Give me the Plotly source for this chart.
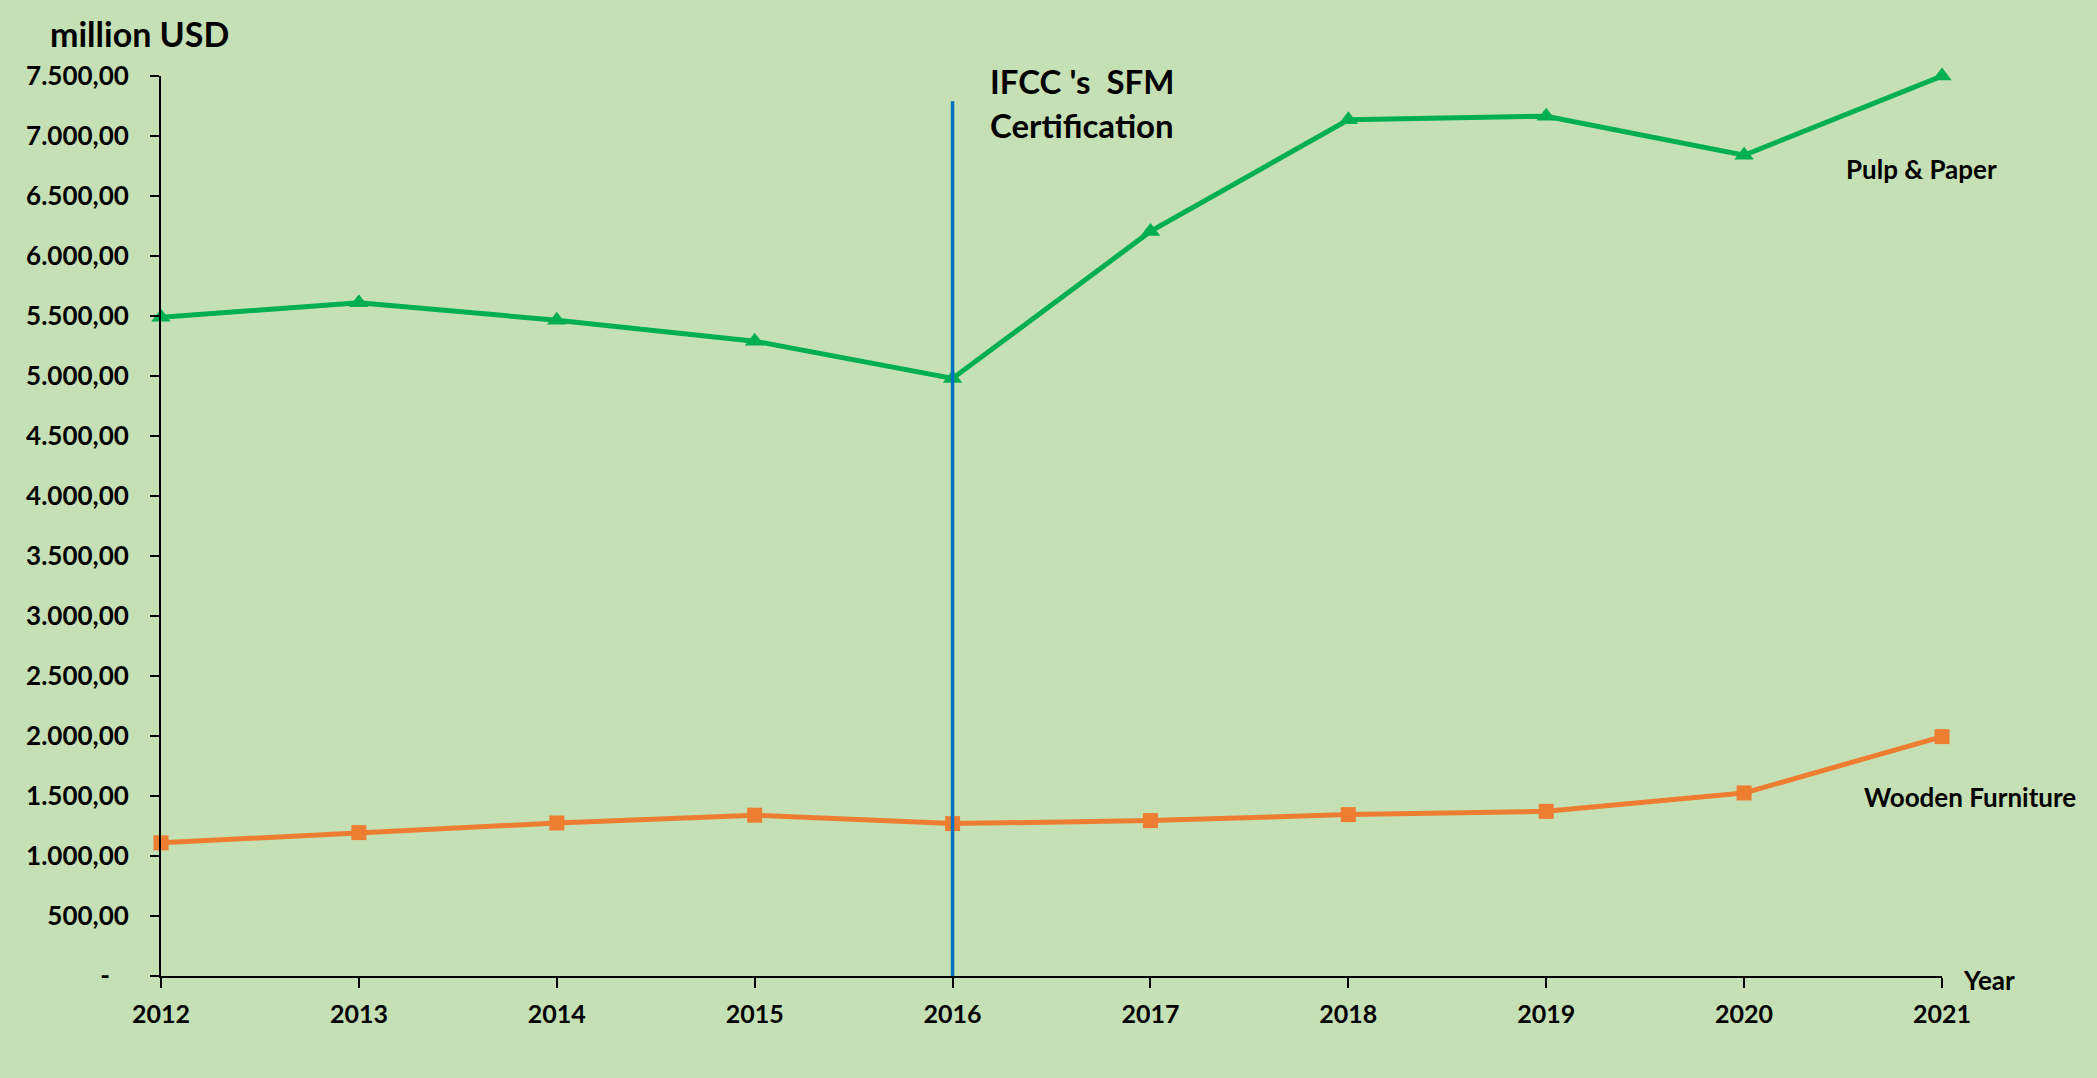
import plotly.graph_objects as go

years = [2012, 2013, 2014, 2015, 2016, 2017, 2018, 2019, 2020, 2021]
pulp_paper = [5490, 5610, 5465, 5290, 4980, 6205, 7135, 7165, 6840, 7500]
wooden_furniture = [1110, 1195, 1275, 1340, 1270, 1295, 1345, 1372, 1525, 1995]

y_tick_vals = [0, 500, 1000, 1500, 2000, 2500, 3000, 3500, 4000, 4500, 5000, 5500, 6000, 6500, 7000, 7500]
y_tick_text = ["-\u00a0\u00a0\u00a0", "500,00", "1.000,00", "1.500,00", "2.000,00", "2.500,00", "3.000,00",
               "3.500,00", "4.000,00", "4.500,00", "5.000,00", "5.500,00", "6.000,00", "6.500,00",
               "7.000,00", "7.500,00"]
x_tick_text = [str(y) for y in years]

cert_year = [2016, 2016]
cert_span = [0, 7290]

FONT = "Lato"
BG = "#C5E0B4"

fig = go.Figure()
fig.add_trace(go.Scatter(
    x=years, y=pulp_paper, mode="lines+markers", name="Pulp & Paper",
    line=dict(color="#00B050", width=5),
    marker=dict(symbol="triangle-up", size=17, color="#00B050"),
    cliponaxis=False, showlegend=False))
fig.add_trace(go.Scatter(
    x=years, y=wooden_furniture, mode="lines+markers", name="Wooden Furniture",
    line=dict(color="#ED7D31", width=5),
    marker=dict(symbol="square", size=15, color="#ED7D31"),
    cliponaxis=False, showlegend=False))
fig.add_trace(go.Scatter(
    x=cert_year, y=cert_span, mode="lines",
    line=dict(color="#0070C0", width=3.5),
    cliponaxis=False, showlegend=False, hoverinfo="skip"))

# plot area in pixels: x 161..1942, y 76..976
def px(xpix):
    return (xpix - 161) / 1781

def py(ypix):
    return (976 - ypix) / 900

txt = dict(family=FONT, color="black")
annotations = [
    dict(text="<b>million USD</b>", xref="paper", yref="paper", x=px(48), y=py(33),
         xanchor="left", yanchor="middle", showarrow=False, font=dict(size=34, **txt)),
    dict(text="<b>IFCC 's\u00a0\u00a0SFM</b>", xref="paper", yref="paper", x=px(988), y=py(81),
         xanchor="left", yanchor="middle", showarrow=False, font=dict(size=33, **txt)),
    dict(text="<b>Certification</b>", xref="paper", yref="paper", x=px(988), y=py(125),
         xanchor="left", yanchor="middle", showarrow=False, font=dict(size=33, **txt)),
    dict(text="<b>Pulp & Paper</b>", xref="paper", yref="paper", x=px(1921), y=py(169),
         xanchor="center", yanchor="middle", showarrow=False, font=dict(size=26, **txt)),
    dict(text="<b>Wooden Furniture</b>", xref="paper", yref="paper", x=px(1970), y=py(797),
         xanchor="center", yanchor="middle", showarrow=False, font=dict(size=26, **txt)),
    dict(text="<b>Year</b>", xref="paper", yref="paper", x=px(1989), y=py(980),
         xanchor="center", yanchor="middle", showarrow=False, font=dict(size=26, **txt)),
]

fig.update_layout(
    width=2097, height=1078, autosize=False,
    margin=dict(l=161, r=155, t=76, b=102),
    paper_bgcolor=BG, plot_bgcolor=BG,
    annotations=annotations,
    font=dict(family=FONT, color="black"),
)
fig.update_xaxes(
    range=[2012, 2021], tickvals=years, ticktext=[f"<b>{t}</b>" for t in x_tick_text],
    showgrid=False, zeroline=False, showline=True, linecolor="black", linewidth=2,
    ticks="outside", ticklen=10, tickwidth=2, tickcolor="black", ticklabelstandoff=5,
    tickfont=dict(family=FONT, size=25, color="black"),
)
fig.update_yaxes(
    range=[0, 7500], tickvals=y_tick_vals, ticktext=[f"<b>{t}</b>" for t in y_tick_text],
    showgrid=False, zeroline=False, showline=True, linecolor="black", linewidth=2,
    ticks="outside", ticklen=9, tickwidth=2, tickcolor="black", ticklabelstandoff=16,
    tickfont=dict(family=FONT, size=26, color="black"),
)

fig.write_html("out.html", config={"displayModeBar": False},
               post_script="document.body.style.margin='0';document.body.style.overflow='hidden';")
